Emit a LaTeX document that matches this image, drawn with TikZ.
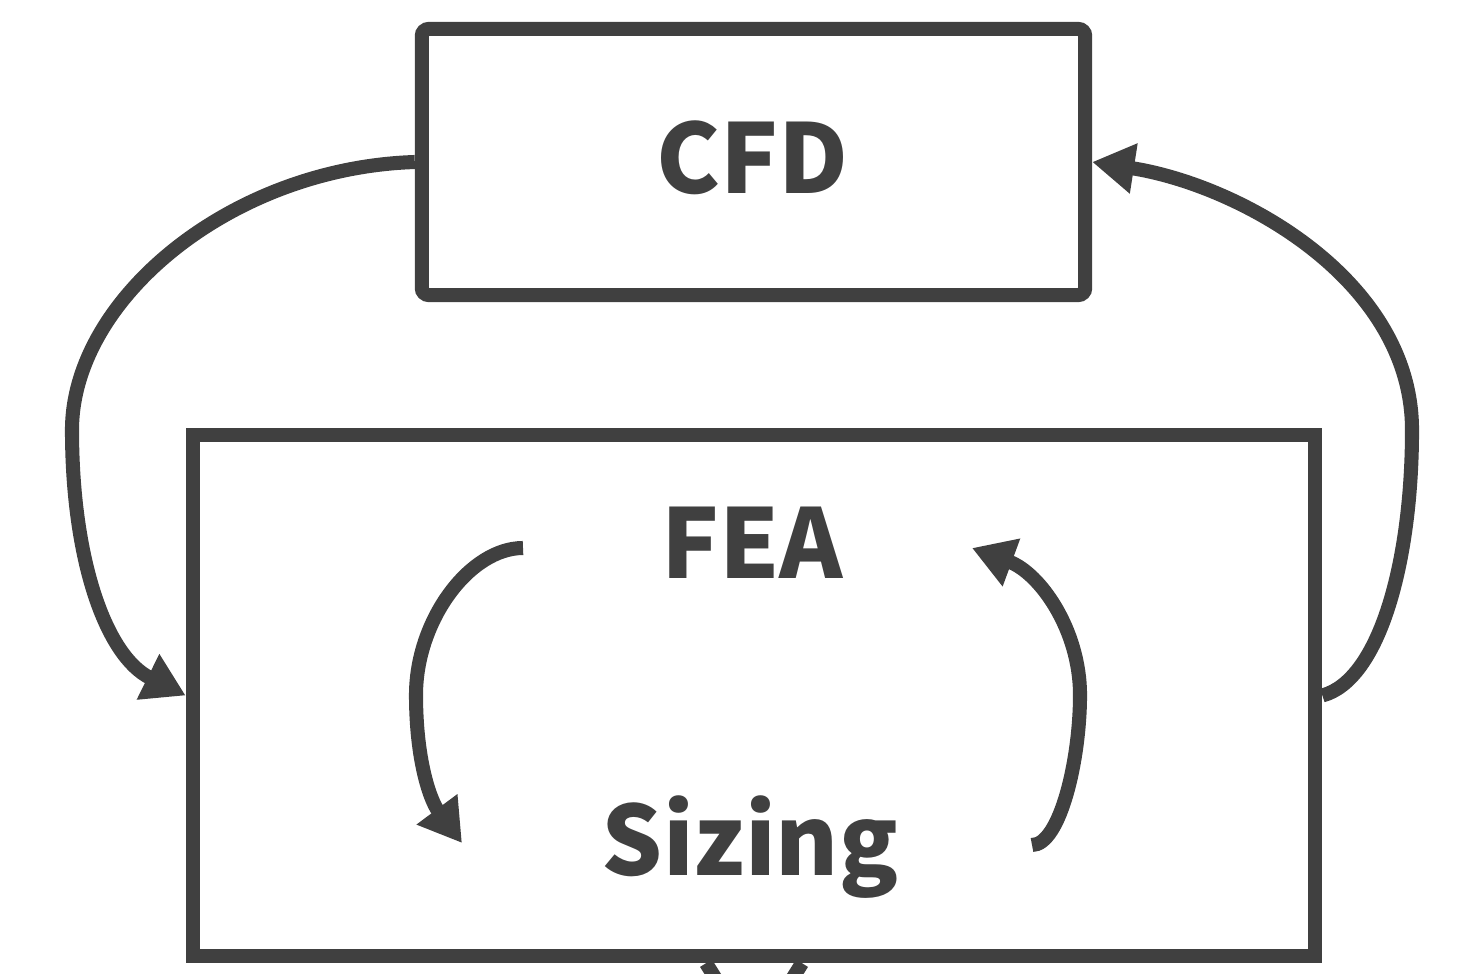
\documentclass[tikz,border=0pt]{standalone}
\usepackage{fontspec}
\setmainfont{Noto Sans CJK SC}[BoldFont=* Black]
\usetikzlibrary{arrows.meta}
\definecolor{ink}{HTML}{404040}

\begin{document}
\begin{tikzpicture}[x=0.01cm,y=-0.01cm,line width=4pt,
  box/.style={draw=ink,line width=4pt,inner sep=0pt},
  word/.style={text=ink,font=\bfseries\fontsize{27.3}{32}\selectfont},
  flow/.style={draw=ink,line width=4pt,-{Triangle[length=0.42cm,width=0.48cm]}}]

\useasboundingbox (0,0) rectangle (1458,973);

\node [box,rounded corners=2pt,minimum width=6.63cm,minimum height=2.66cm] (cfd) at (753.5,162) {};
\node [box,minimum width=11.22cm,minimum height=5.21cm] (fea) at (754,695.5) {};

\node [word,anchor=base] (cfdlabel) at (752,193) {CFD};
\node [word,anchor=base] (fealabel) at (752,578) {FEA};
\node [word,anchor=base] (sizing) at (750,875) {Sizing};

\coordinate (a1) at (523,548);
\coordinate (a2) at (462,843);
\coordinate (b1) at (1032,845);
\coordinate (b2) at (972,548);
\coordinate (below) at (754,1040);

% outer loop
\draw [flow] (cfd.west) .. controls (230,168) and (72,300) .. (72,430)
  .. controls (72,560) and (106,656) .. (fea.west);
\draw [flow] (fea.east) .. controls (1380,680) and (1412,560) .. (1412,430)
  .. controls (1412,280) and (1240,185) .. (cfd.east);

% inner loop
\draw [flow] (a1) .. controls (470,548) and (416,620) .. (416,695)
  .. controls (416,760) and (430,800) .. (a2);
\draw [flow] (b1) .. controls (1060,845) and (1080,760) .. (1080,695)
  .. controls (1080,630) and (1040,573) .. (b2);

\draw [ink] ([xshift=-0.48cm]fea.south) -- (below) -- ([xshift=0.48cm]fea.south);

\end{tikzpicture}
\end{document}
